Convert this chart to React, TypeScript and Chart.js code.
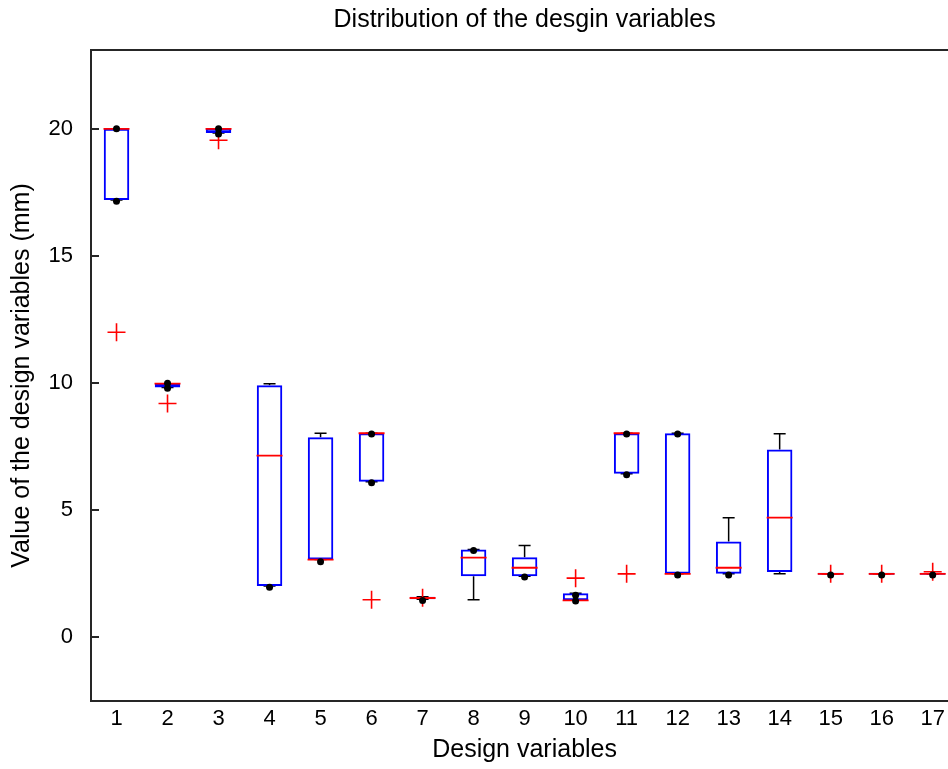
import React, { useEffect, useRef } from 'react';
import { Chart, registerables } from 'chart.js';

Chart.register(...registerables);

// ---- data ----
const chartTitle = 'Distribution of the desgin variables';
const categories = ['1', '2', '3', '4', '5', '6', '7', '8', '9', '10', '11', '12', '13', '14', '15', '16', '17'];
const q1 = [17.2, 9.83, 19.84, 2.02, 3.06, 6.12, 1.5, 2.41, 2.41, 1.46, 6.44, 2.5, 2.5, 2.57, 2.46, 2.46, 2.46];
const q3 = [20, 9.98, 20, 9.92, 7.87, 8.03, 1.6, 3.46, 3.15, 1.74, 8.03, 8.03, 3.77, 7.39, 2.54, 2.54, 2.54];
const medians = [20, 9.98, 20, 7.15, 3.06, 8.03, 1.55, 3.14, 2.74, 1.46, 8.03, 2.5, 2.74, 4.71, 2.5, 2.5, 2.5];
const upperWhisker = [20, 9.98, 20, 9.98, 8.03, 8.03, 1.6, 3.46, 3.61, 1.74, 8.03, 8.03, 4.71, 8.01, 2.5, 2.5, 2.5];
const lowerWhisker = [17.2, 9.83, 19.84, 2.02, 3.06, 6.12, 1.5, 1.48, 2.41, 1.46, 6.44, 2.5, 2.5, 2.5, 2.5, 2.5, 2.5];
const outlierBox = [1, 2, 3, 6, 7, 10, 11, 15, 16, 17];
const outlierValue = [12.0, 9.2, 19.55, 1.48, 1.56, 2.33, 2.5, 2.5, 2.5, 2.58];
const dotBox = [1, 1, 2, 2, 3, 3, 4, 5, 6, 6, 7, 8, 9, 10, 10, 11, 11, 12, 12, 13, 15, 16, 17];
const dotValue = [20, 17.15, 10, 9.8, 20, 19.8, 1.97, 2.98, 8.0, 6.08, 1.45, 3.42, 2.38, 1.66, 1.43, 8.0, 6.4, 8.0, 2.45, 2.45, 2.45, 2.45, 2.45];
const yTicks = [0, 5, 10, 15, 20];
const yMin = -2.5;
const yMax = 23.1;

const FONT = "'Liberation Sans', Arial, Helvetica, sans-serif";
const CW = 973;
const CH = 769;

const framePlugin = {
  id: 'frame',
  afterDraw(chart: any) {
    const { ctx, chartArea } = chart;
    const { left, top, right, bottom } = chartArea;
    const y = chart.scales.y;
    ctx.save();
    ctx.strokeStyle = '#262626';
    ctx.lineWidth = 2;
    ctx.strokeRect(left, top, right - left, bottom - top);
    y.ticks.forEach((t: any) => {
      const py = Math.round(y.getPixelForValue(t.value));
      ctx.beginPath();
      ctx.moveTo(left, py);
      ctx.lineTo(left + 8, py);
      ctx.stroke();
    });
    // title centred over the axes box
    ctx.fillStyle = '#000';
    ctx.font = `25px ${FONT}`;
    ctx.textAlign = 'center';
    ctx.textBaseline = 'middle';
    ctx.fillText(chartTitle, (left + right) / 2, top - 30);
    ctx.restore();
  },
};

export default function App() {
  const ref = useRef<HTMLCanvasElement>(null);

  useEffect(() => {
    if (!ref.current) return;
    const boxData = categories.map((_, i) => ({ x: i + 1, y: [q1[i], q3[i]] }));
    const medianData = categories.map((_, i) => ({ x: i + 1, y: medians[i] }));
    const whiskerData: any[] = [];
    categories.forEach((_, i) => {
      whiskerData.push(
        { x: i + 1, y: q3[i] },
        { x: i + 1, y: upperWhisker[i] },
        { x: i + 1, y: null },
        { x: i + 1, y: q1[i] },
        { x: i + 1, y: lowerWhisker[i] },
        { x: i + 1, y: null }
      );
    });
    const capData = categories.flatMap((_, i) => [
      { x: i + 1, y: upperWhisker[i] },
      { x: i + 1, y: lowerWhisker[i] },
    ]);
    const outlierData = outlierBox.map((b, i) => ({ x: b, y: outlierValue[i] }));
    const dotData = dotBox.map((b, i) => ({ x: b, y: dotValue[i] }));

    const chart = new Chart(ref.current, {
      type: 'bar',
      data: {
        datasets: [
          {
            type: 'line',
            data: whiskerData,
            borderColor: '#000000',
            borderWidth: 1.5,
            pointRadius: 0,
            spanGaps: false,
            tension: 0,
            order: 5,
          } as any,
          {
            type: 'scatter',
            data: capData,
            pointStyle: 'line',
            pointRadius: 6,
            borderColor: '#000000',
            backgroundColor: '#000000',
            borderWidth: 1.5,
            order: 4,
          } as any,
          {
            type: 'bar',
            data: boxData,
            backgroundColor: 'rgba(0,0,0,0)',
            borderColor: '#0000ff',
            borderWidth: 2,
            borderSkipped: false,
            barPercentage: 0.5,
            categoryPercentage: 1,
            order: 3,
          } as any,
          {
            type: 'scatter',
            data: medianData,
            pointStyle: 'line',
            pointRadius: 13,
            borderColor: '#ff0000',
            backgroundColor: '#ff0000',
            borderWidth: 1.8,
            order: 2,
          } as any,
          {
            type: 'scatter',
            data: outlierData,
            pointStyle: 'cross',
            pointRadius: 9,
            borderColor: '#ff0000',
            backgroundColor: '#ff0000',
            borderWidth: 1.6,
            order: 1,
          } as any,
          {
            type: 'scatter',
            data: dotData,
            pointStyle: 'circle',
            pointRadius: 3.5,
            borderWidth: 0,
            borderColor: '#000000',
            backgroundColor: '#000000',
            order: 0,
          } as any,
        ],
      },
      options: {
        responsive: false,
        maintainAspectRatio: false,
        animation: false,
        events: [],
        layout: { padding: { top: 50, left: 0, right: 0, bottom: 0 } },
        plugins: {
          legend: { display: false },
          tooltip: { enabled: false },
          title: { display: false },
        },
        scales: {
          x: {
            type: 'linear',
            min: 0.5,
            max: 17.5,
            offset: false,
            grid: { display: false, drawTicks: false },
            border: { display: false },
            afterBuildTicks: (s: any) => {
              s.ticks = categories.map((_, i) => ({ value: i + 1 }));
            },
            afterFit: (s: any) => {
              s.height = 68;
            },
            ticks: {
              autoSkip: false,
              maxRotation: 0,
              minRotation: 0,
              padding: 5,
              color: '#000',
              font: { family: FONT, size: 22 },
              callback: (v: any) => categories[Math.round(v) - 1] ?? '',
            },
            title: {
              display: true,
              text: 'Design variables',
              color: '#000',
              font: { family: FONT, size: 25 },
              padding: { top: 0, bottom: 4 },
            },
          },
          y: {
            type: 'linear',
            min: yMin,
            max: yMax,
            grid: { display: false, drawTicks: false },
            border: { display: false },
            afterBuildTicks: (s: any) => {
              s.ticks = yTicks.map((v) => ({ value: v }));
            },
            afterFit: (s: any) => {
              s.width = 91;
            },
            ticks: {
              padding: 18,
              color: '#000',
              font: { family: FONT, size: 22 },
            },
            title: {
              display: true,
              text: 'Value of the design variables (mm)',
              color: '#000',
              font: { family: FONT, size: 25 },
              padding: { top: 7, bottom: 0 },
            },
          },
        },
      } as any,
      plugins: [framePlugin],
    });
    return () => chart.destroy();
  }, []);

  return (
    <div
      style={{
        position: 'absolute',
        left: 0,
        top: 0,
        width: 948,
        height: CH,
        overflow: 'hidden',
        background: '#ffffff',
      }}
    >
      <div style={{ position: 'absolute', left: 0, top: 0, width: CW, height: CH }}>
        <canvas ref={ref} width={CW} height={CH} style={{ display: 'block', width: CW, height: CH }} />
      </div>
    </div>
  );
}
